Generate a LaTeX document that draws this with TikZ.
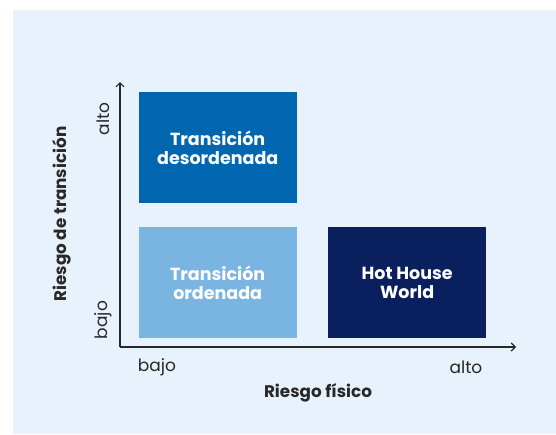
\documentclass[tikz,border=0pt]{standalone}
\usepackage{fontspec}
\setmainfont{Poppins}
\usetikzlibrary{arrows.meta,positioning}
\definecolor{panelbg}{RGB}{232,242,252}
\definecolor{riskmid}{RGB}{0,102,176}
\definecolor{risklight}{RGB}{122,180,224}
\definecolor{riskdark}{RGB}{10,32,94}
\definecolor{axisgray}{RGB}{40,40,40}

\begin{document}
\begin{tikzpicture}[x=1pt,y=-1pt,>={Straight Barb[length=4pt,width=8pt]},
    node distance=24pt and 31pt,
    quad/.style={rectangle,minimum width=158pt,minimum height=111pt,inner sep=0pt,
      align=center,text=white,font=\fontsize{17.5}{19}\selectfont\bfseries},
    ticklabel/.style={text=axisgray,font=\fontsize{17}{20}\selectfont},
    axislabel/.style={text=axisgray,font=\fontsize{16.8}{20}\selectfont\bfseries}]
    \useasboundingbox (0,0) rectangle (556,434);
    \fill[panelbg] (13,10) rectangle (556,434);
    % quadrants
    \node[quad,fill=riskmid] (disorderly) at (217.7,147.4) {Transición\\desordenada};
    \node[quad,fill=risklight,below=of disorderly] (orderly) {Transición\\ordenada};
    \node[quad,fill=riskdark,right=of orderly] (hothouse) {Hot House\\World};
    % axes
    \coordinate (O) at (120,347);
    \coordinate (ytop) at (120,82);
    \coordinate (xend) at (516,347);
    \draw[->,axisgray,line width=1.2pt] (O) -- (ytop);
    \draw[->,axisgray,line width=1.2pt] (O) -- (xend);
    % labels
    \node[ticklabel] (xlow) at (157,367) {bajo};
    \node[ticklabel] (xhigh) at (466,367) {alto};
    \node[axislabel] (xname) at (318,393) {Riesgo físico};
    \node[ticklabel,rotate=90] (yhigh) at (103,119) {alto};
    \node[ticklabel,rotate=90] (ylow) at (103,320) {bajo};
    \node[axislabel,rotate=90] (yname) at (62,214) {Riesgo de transición};
\end{tikzpicture}
\end{document}
